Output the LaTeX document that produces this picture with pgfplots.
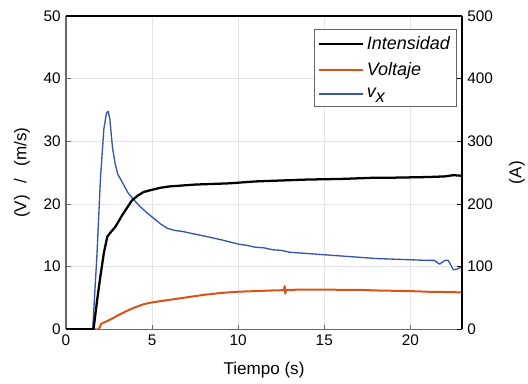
\documentclass[border=0pt]{standalone}
\usepackage{fontspec}
\setmainfont{Liberation Sans}
\usepackage{pgfplots}
\pgfplotsset{compat=1.18}
\usetikzlibrary{calc}
\definecolor{mblue}{RGB}{55,85,170}
\definecolor{morange}{RGB}{217,83,25}
\definecolor{mgray}{RGB}{105,105,105}
\definecolor{mgrid}{RGB}{228,228,228}

\pgfplotstableread{
x y
0 0
1.55 0
1.8 12
2.0 24
2.2 32
2.35 34.5
2.45 34.8
2.55 33.5
2.7 29
2.85 26.5
3.0 24.8
3.3 23.3
3.6 21.8
3.9 20.8
4.3 19.6
4.7 18.6
5.1 17.7
5.5 16.8
5.9 16.1
6.3 15.8
6.8 15.6
7.3 15.3
8 14.9
9 14.3
10 13.6
10.5 13.4
11 13.1
11.5 13.0
12 12.7
12.5 12.6
13 12.3
14 12.1
15 11.9
16 11.7
17 11.5
18 11.3
19 11.2
20 11.1
21 11.0
21.4 11.0
21.7 10.4
22.0 11.0
22.2 11.0
22.5 9.5
22.7 9.6
23 10.0
}\vxdata

\pgfplotstableread{
x y
0 0
1.9 0
2.05 0.9
2.3 1.2
2.6 1.6
3 2.2
3.5 2.9
4 3.5
4.5 4.0
5 4.3
5.5 4.5
6 4.7
7 5.1
8 5.5
9 5.8
10 6.0
11 6.1
12 6.2
12.66 6.25
12.7 6.9
12.74 5.7
12.78 6.3
13 6.3
14 6.35
15 6.35
16 6.3
17 6.3
18 6.2
19 6.15
20 6.1
21 6.0
22 5.95
23 5.9
}\voltdata

\pgfplotstableread{
x y
0 0
1.6 0
1.8 45
2.0 85
2.2 122
2.4 148
2.6 155
2.85 163
3.05 172
3.26 182
3.5 192
3.84 206
4.2 214
4.5 219
4.9 222
5.5 226
6 228
6.5 229
7 230
7.5 231
8.5 232
9.5 233
10 234
11 236
12 237
13 238
14 239
15 239.5
16 240
17 241
18 242
19 242
20 242.5
21 243
22 244
22.5 246
23 245
}\intdata

\begin{document}
\fontsize{11.3}{13}\selectfont
\begin{tikzpicture}
\pgfplotsset{
  common/.style={
    width=297pt, height=235pt, scale only axis,
    xmin=0, xmax=23,
    tick align=inside,
    major tick length=3.5pt,
    /pgf/number format/assume math mode=true,
    tick label style={font=\fontsize{11.5}{13}\selectfont},
    label style={font=\fontsize{12.8}{15}\selectfont},
  }
}
\begin{axis}[common,
  ymin=0, ymax=50,
  ytick={0,10,...,50},
  xtick={0,5,...,20},
  axis x line*=bottom, axis y line*=left,
  axis line style={mgray, line width=0.8pt},
  every tick/.style={mgray, line width=0.6pt},
  grid=major, grid style={mgrid, line width=0.5pt},
  xlabel={Tiempo (s)},
  ylabel={(V)\hspace{0.7em}/\hspace{0.7em}(m/s)},
  xlabel style={at={(axis description cs:0.5,-0.131)}, anchor=center},
  ylabel style={at={(axis description cs:-0.111,0.5)}, anchor=center},
]
\addplot[morange, line width=1.5pt, line join=round] table[x=x,y=y] {\voltdata};
\addplot[mblue, line width=1.0pt, line join=round] table[x=x,y=y] {\vxdata};
\coordinate (bl) at (rel axis cs:0,0);
\coordinate (tr) at (rel axis cs:1,1);
\end{axis}
\begin{axis}[common,
  ymin=0, ymax=500,
  ytick={0,100,...,500},
  xtick=\empty,
  axis x line*=top, axis y line*=right,
  axis line style={black, line width=0.8pt},
  every tick/.style={black, line width=0.6pt},
  ylabel={(A)},
  ylabel style={at={(axis description cs:1.139,0.5)}, anchor=center},
  legend cell align=left,
  legend style={at={(0.987,0.958)}, anchor=north east, draw=black!60,
    font=\fontsize{13.5}{15}\selectfont\itshape, row sep=4pt,
    inner xsep=3pt, inner ysep=3pt},
  legend image code/.code={\path (0pt,0pt) -- (33pt,0pt);\draw[#1] (0pt,0pt) -- (28pt,0pt);},
]
\addplot[black, line width=1.7pt, line join=round] table[x=x,y=y] {\intdata};
\addlegendentry{Intensidad}
\addlegendimage{morange, line width=1.5pt}
\addlegendentry{Voltaje}
\addlegendimage{mblue, line width=1.0pt}
\addlegendentry{v\raisebox{-0.55ex}{x}}
\end{axis}
\pgfresetboundingbox
\path ($(bl)+(-49.5pt,-40.5pt)$) rectangle ($(tr)+(49.5pt,12pt)$);
\end{tikzpicture}
\end{document}
